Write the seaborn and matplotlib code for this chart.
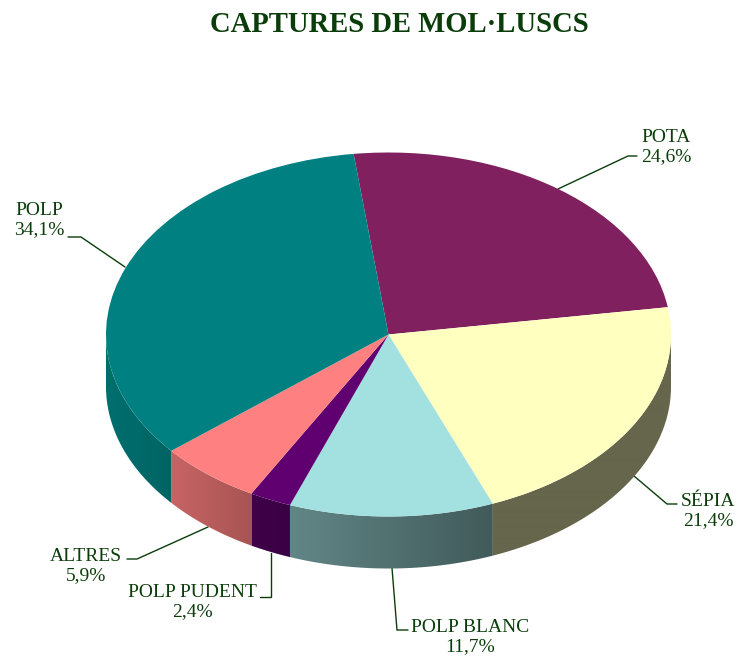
import numpy as np
import matplotlib
matplotlib.use("Agg")
import matplotlib.pyplot as plt
from matplotlib.patches import Polygon
import seaborn as sns

categories = ["POTA", "SÉPIA", "POLP BLANC", "POLP PUDENT", "ALTRES", "POLP"]
values = [24.6, 21.4, 11.7, 2.4, 5.9, 34.1]
colors = ["#80205F", "#FFFFC0", "#A3E0E0", "#600070", "#FF8080", "#008080"]

# layout, in reference pixels
W, H = 737, 659
CX, CY, RX, RY, DEPTH = 388.5, 334.5, 282.5, 182.0, 52
label_xy = [(666, 147), (708, 511), (470, 637), (192, 602), (86, 566), (39, 220)]
leaders = [
    [(558, 189), (628, 156), (637, 156)],
    [(634, 476), (667, 504), (677, 504)],
    [(392, 568), (397, 630), (408, 630)],
    [(271, 553), (271, 597), (260, 597)],
    [(208, 527), (137, 559), (127, 559)],
    [(125, 267), (81, 237), (68, 237)],
]
shade_px = [106, 172, 250, 290, 495, 671]
shade_val = [.86, .78, .66, .60, .40, .40]
GREEN = "#0A3D0A"

sns.set_theme(style="white")
plt.rcParams["font.family"] = ["Liberation Serif", "DejaVu Serif"]

fig = plt.figure(figsize=(W / 100, H / 100), dpi=100, facecolor="white")
ax = fig.add_axes([0, 0, 1, 1])

wedges, _ = ax.pie(values, colors=colors, startangle=97.1, counterclock=False,
                   radius=1, center=(0, 0), wedgeprops=dict(linewidth=0, zorder=3))
ax.set_aspect("auto")
xlim = (-CX / RX, (W - CX) / RX)
ylim = ((CY - H) / RY, CY / RY)


def to_data(px, py):
    return (px - CX) / RX, (CY - py) / RY


# side wall: a horizontal shade gradient clipped to each wedge's outer wall
dz = DEPTH / RY
grad_px = np.arange(W) + 0.5
shade = np.interp(grad_px, shade_px, shade_val)[None, :, None]
for w, col in zip(wedges, colors):
    rgb = np.array(matplotlib.colors.to_rgb(col))[None, None, :]
    t = np.arange(w.theta1, w.theta2, 0.25)
    t = np.r_[t, w.theta2, [k for k in (-180, 0, 180, 360) if w.theta1 < k < w.theta2]]
    t = np.radians(np.sort(t))
    t = t[np.sin(t) <= 1e-9]
    if len(t) < 2:
        continue
    xs, ys = np.cos(t), np.sin(t)
    verts = np.c_[np.r_[xs, xs[::-1]], np.r_[ys, ys[::-1] - dz]]
    wall = Polygon(verts, closed=True, transform=ax.transData, facecolor="none",
                   edgecolor="none")
    ax.add_patch(wall)
    im = ax.imshow(rgb * shade, extent=(xlim[0], xlim[1], ylim[0], ylim[1]),
                   origin="upper", aspect="auto", interpolation="bilinear", zorder=2)
    im.set_clip_path(wall)

ax.set_xlim(*xlim)
ax.set_ylim(*ylim)
ax.set_aspect("auto")
ax.set_axis_off()

# leaders and labels
for name, v, (lx, ly), pts in zip(categories, values, label_xy, leaders):
    d = np.array([to_data(*p) for p in pts])
    ax.plot(d[:, 0], d[:, 1], color=GREEN, lw=1.0, zorder=1, solid_joinstyle="miter")
    tx, ty = to_data(lx, ly)
    ax.text(tx, ty, f"{name}\n{v:.1f}%".replace(".", ","), ha="center", va="center",
            fontsize=14, color=GREEN, linespacing=1.15, zorder=5)

tx, ty = to_data(399.5, 24.5)
ax.text(tx, ty, "CAPTURES DE MOL·LUSCS", ha="center", va="center",
        fontsize=20.6, fontweight="bold", color=GREEN, zorder=5)

fig.savefig("out.png", dpi=100, facecolor="white")
